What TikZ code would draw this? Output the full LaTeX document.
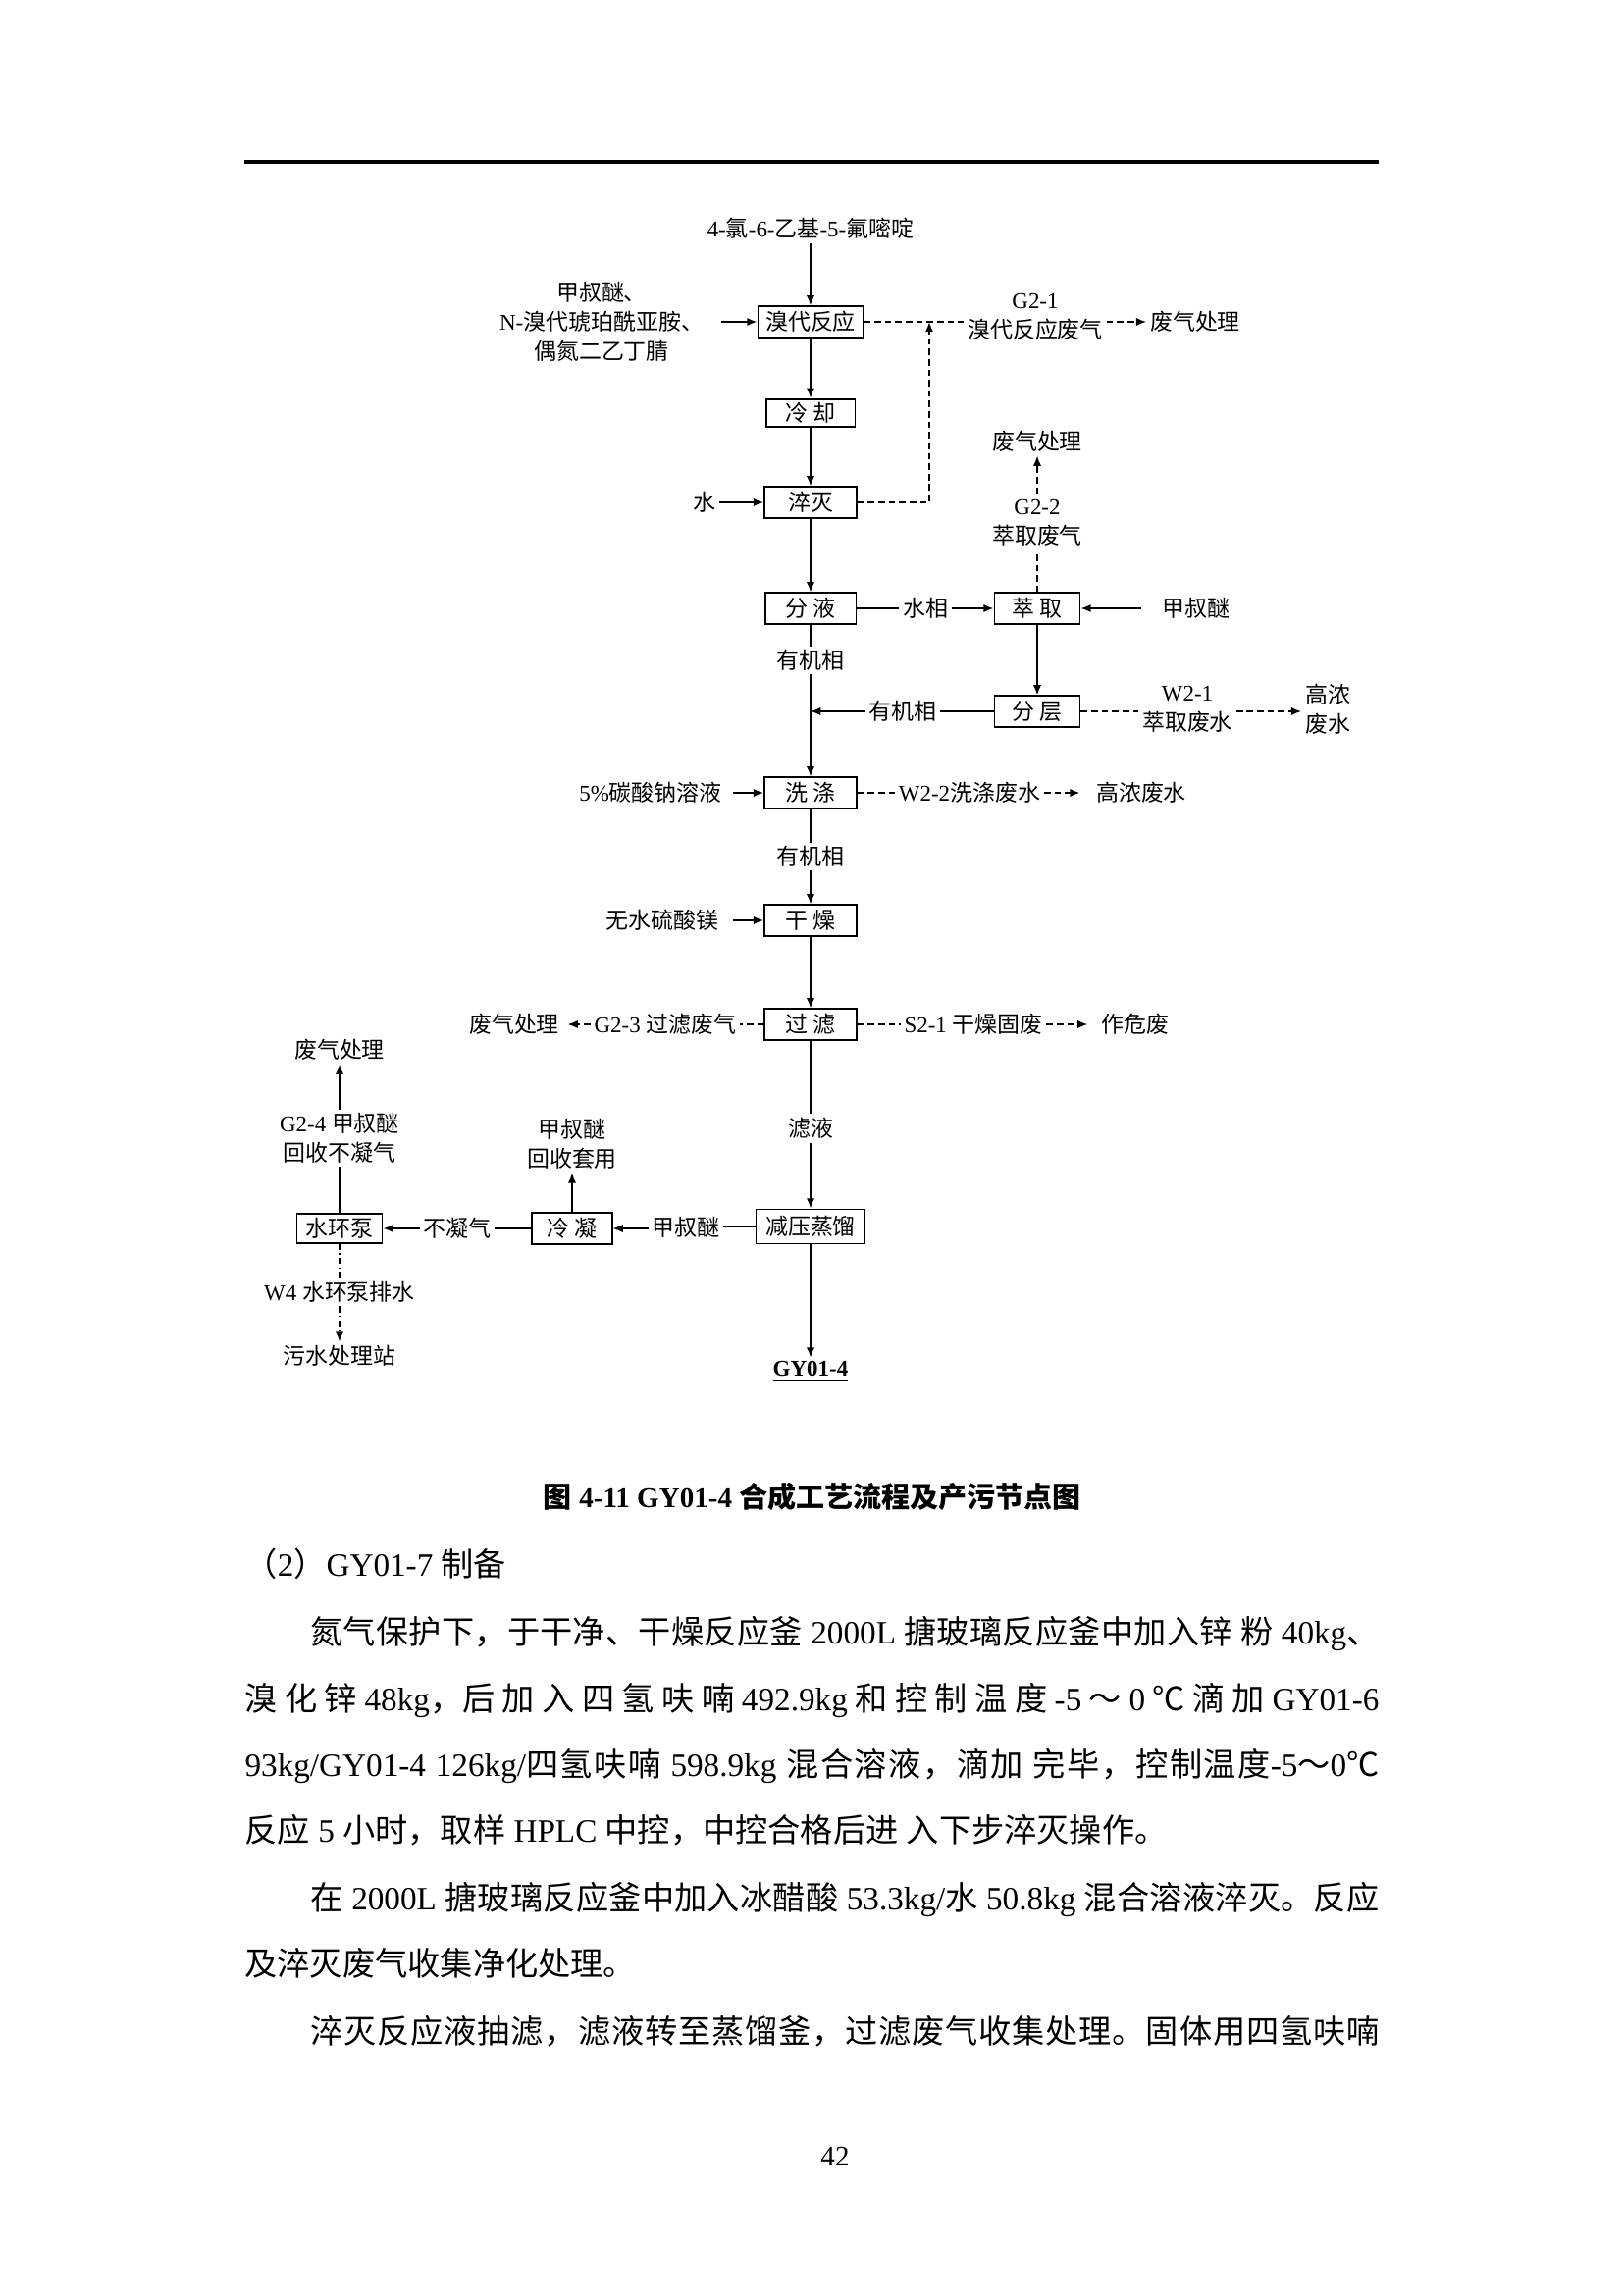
\documentclass[tikz,border=0pt]{standalone}
\usepackage{fontspec}
\setmainfont{Liberation Serif}
\newfontfamily\cjk{Noto Sans CJK SC}
\usetikzlibrary{arrows.meta,positioning,calc}

% Chinese characters go to the CJK font
\XeTeXinterchartokenstate=1
\newXeTeXintercharclass\CJKcls
\newcount\cjkc
\def\setcjkrange#1#2{\cjkc=#1\relax
  \loop\XeTeXcharclass\cjkc=\CJKcls
  \ifnum\cjkc<#2\advance\cjkc by 1\repeat}
\setcjkrange{"2103}{"2103}
\setcjkrange{"3000}{"303F}
\setcjkrange{"4E00}{"9FFF}
\setcjkrange{"FF00}{"FFEF}
\XeTeXinterchartoks 0 \CJKcls={\begingroup\cjk}
\XeTeXinterchartoks 4095 \CJKcls={\begingroup\cjk}
\XeTeXinterchartoks \CJKcls 0={\endgroup}
\XeTeXinterchartoks \CJKcls 4095={\endgroup}
\XeTeXinterchartoks \CJKcls \CJKcls={\hskip0pt plus 1.5pt\relax}

\newcommand{\dfont}{\fontsize{8.3}{10.8}\selectfont}
\newcommand{\btext}{\fontsize{12}{14}\selectfont}

\begin{document}
\begin{tikzpicture}[
    x=0.127mm, y=-0.127mm,
    box/.style={rectangle, draw, line width=0.7pt, minimum height=3.95mm, inner sep=0pt, font=\dfont},
    lbl/.style={font=\dfont, align=center, inner sep=1.2pt},
    flow/.style={line width=0.6pt, -{Latex[length=1.3mm,width=1.05mm]}},
    link/.style={line width=0.6pt},
    wlink/.style={line width=0.6pt, dash pattern=on 0.85mm off 0.5mm},
    waste/.style={wlink, -{Latex[length=1.3mm,width=1.05mm]}},
    dlink/.style={line width=0.6pt, dash pattern=on 0.8mm off 0.4mm on 0.2mm off 0.4mm},
    drain/.style={dlink, -{Latex[length=1.3mm,width=1.05mm]}},
    body/.style={font=\btext, anchor=base west, inner sep=0pt}
]
\useasboundingbox (0,0) rectangle (1654,2339);
\fill[white] (0,0) rectangle (1654,2339);

% ============ page head ============
\draw[line width=0.4mm] (249,165) -- (1405,165);

% ============ main line ============
\node[lbl] (pyr) at (826,233) {4-氯-6-乙基-5-氟嘧啶};
\node[box, minimum width=13.6mm] (brom) at (826,328) {溴代反应};
\node[box, minimum width=11.55mm, minimum height=3.6mm] (cool) at (826,421) {冷 却};
\node[box, minimum width=11.9mm] (quench) at (826,512) {淬灭};
\node[box, minimum width=11.8mm] (sep) at (826,620) {分 液};
\node[lbl] (org1) at (826,673) {有机相};
\node[box, minimum width=11.9mm] (wash) at (826,808) {洗 涤};
\node[lbl] (org2) at (826,873) {有机相};
\node[box, minimum width=11.9mm] (dry) at (826,938) {干 燥};
\node[box, minimum width=11.9mm] (filt) at (826,1044) {过 滤};
\node[lbl] (filtr) at (826,1150) {滤液};
\node[box, minimum width=14.1mm, minimum height=4.45mm] (dist) at (826,1250) {减压蒸馏};
\node[lbl, font=\dfont\bfseries] (prod) at (826,1398) {\underline{GY01-4}};

\draw[flow] (pyr) -- (brom);
\draw[flow] (brom) -- (cool);
\draw[flow] (cool) -- (quench);
\draw[flow] (quench) -- (sep);
\draw[link] (sep) -- (org1);
\draw[flow] (org1) -- (wash);
\draw[link] (wash) -- (org2);
\draw[flow] (org2) -- (dry);
\draw[flow] (dry) -- (filt);
\draw[link] (filt) -- (filtr);
\draw[flow] (filtr) -- (dist);
\draw[flow] (dist) -- (prod);

% ============ bromination and quench ============
\node[lbl] (reag) at (613,328) {甲叔醚、\\N-溴代琥珀酰亚胺、\\偶氮二乙丁腈};
\node[lbl] (g21) at (1055,323) {G2-1\\溴代反应废气};
\node[lbl] (gas1) at (1218,328) {废气处理};
\node[lbl] (water) at (718,512) {水};
\coordinate (ret) at (947,328);

\draw[flow, shorten <=1.8mm] (reag.east |- brom) -- (brom.west);
\draw[wlink] (brom.east) -- (brom.east -| g21.west);
\draw[waste] (g21.east |- brom) -- (gas1.west);
\draw[waste] (quench.east) -| (ret);
\draw[flow] (water.east |- quench) -- (quench.west);

% ============ extraction ============
\node[lbl] (aq) at (943,620) {水相};
\node[box, minimum width=11.05mm] (extr) at (1057,620) {萃 取};
\node[lbl] (mtbe1) at (1219,620) {甲叔醚};
\node[lbl, inner sep=2pt] (g22) at (1057,533) {G2-2\\萃取废气};
\node[lbl] (gas2) at (1057,450) {废气处理};
\node[box, minimum width=11.05mm] (layer) at (1057,725) {分 层};
\node[lbl] (org3) at (920,725) {有机相};
\coordinate (join) at (826,725);
\node[lbl] (w21) at (1210,723) {W2-1\\萃取废水};
\node[lbl] (hc1) at (1353,723) {高浓\\废水};

\draw[link] (sep) -- (aq);
\draw[flow] (aq) -- (extr);
\draw[flow, shorten <=2.3mm] (mtbe1) -- (extr);
\draw[wlink] (extr) -- (g22);
\draw[waste] (g22) -- (gas2);
\draw[flow] (extr) -- (layer);
\draw[link] (layer) -- (org3);
\draw[flow] (org3) -- (join);
\draw[wlink] (layer.east) -- (layer.east -| w21.west);
\draw[waste] (w21.east |- layer) -- (layer -| hc1.west);

% ============ washing and drying ============
\node[lbl] (soda) at (663,808) {5\%碳酸钠溶液};
\node[lbl] (w22) at (988,808) {W2-2洗涤废水};
\node[lbl] (hc2) at (1163,808) {高浓废水};
\node[lbl] (mgso4) at (675,938) {无水硫酸镁};

\draw[flow, shorten <=0.9mm] (soda.east |- wash) -- (wash.west);
\draw[wlink] (wash) -- (w22);
\draw[waste, shorten >=1.6mm] (w22) -- (hc2);
\draw[flow, shorten <=1.4mm] (mgso4.east |- dry) -- (dry.west);

% ============ filtration ============
\node[lbl] (g23) at (678,1044) {G2-3 过滤废气};
\node[lbl] (gas3) at (524,1044) {废气处理};
\node[lbl] (s21) at (992,1044) {S2-1 干燥固废};
\node[lbl] (haz) at (1157,1044) {作危废};

\draw[wlink] (filt) -- (g23);
\draw[waste, shorten >=0.6mm] (g23) -- (gas3);
\draw[wlink] (filt) -- (s21);
\draw[waste, shorten >=1.3mm] (s21) -- (haz);

% ============ solvent recovery ============
\node[lbl] (mtbe2) at (699,1251) {甲叔醚};
\node[box, minimum width=10.3mm] (cond) at (583,1252) {冷 凝};
\node[lbl] (recyc) at (583,1166) {甲叔醚\\回收套用};
\node[lbl] (noncond) at (466,1252) {不凝气};
\node[box, minimum width=11.05mm, minimum height=3.8mm] (pump) at (346,1252) {水环泵};
\node[lbl] (g24) at (346,1160) {G2-4 甲叔醚\\回收不凝气};
\node[lbl] (gas4) at (346,1070) {废气处理};
\node[lbl] (w4) at (346,1317) {W4 水环泵排水};
\node[lbl] (sew) at (346,1382) {污水处理站};

\draw[link] (dist.west) -- (dist.west -| mtbe2.east);
\draw[flow] (mtbe2.west |- cond) -- (cond.east);
\draw[flow] (cond) -- (recyc);
\draw[link] (cond.west) -- (cond.west -| noncond.east);
\draw[flow] (noncond.west |- pump) -- (pump.east);
\draw[link] (pump) -- (g24);
\draw[flow] (g24) -- (gas4);
\draw[dlink] (pump) -- (w4);
\draw[drain] (w4) -- (sew);

% ============ caption and text ============
\node[font=\fontsize{10.5}{12}\selectfont\bfseries] (cap) at (828,1525) {图 4-11 GY01-4 合成工艺流程及产污节点图};

\node[body] (h2) at (249,1606) {（2）GY01-7 制备};
\node[body] (p1) at (316,1675) {\makebox[138.3mm][s]{氮气保护下，于干净、干燥反应釜 2000L 搪玻璃反应釜中加入锌 粉 40kg、}};
\node[body] (p2) at (249,1743) {\makebox[146.8mm][s]{溴 化 锌 48kg，后 加 入 四 氢 呋 喃 492.9kg 和 控 制 温 度 -5 ～ 0 ℃ 滴 加 GY01-6}};
\node[body] (p3) at (249,1810) {\makebox[146.8mm][s]{93kg/GY01-4 126kg/四氢呋喃 598.9kg 混合溶液，滴加 完毕，控制温度-5～0℃}};
\node[body] (p4) at (249,1877) {反应 5 小时，取样 HPLC 中控，中控合格后进 入下步淬灭操作。};
\node[body] (p5) at (316,1946) {\makebox[138.3mm][s]{在 2000L 搪玻璃反应釜中加入冰醋酸 53.3kg/水 50.8kg 混合溶液淬灭。反应}};
\node[body] (p6) at (249,2013) {及淬灭废气收集净化处理。};
\node[body] (p7) at (316,2082) {\makebox[138.3mm][s]{淬灭反应液抽滤，滤液转至蒸馏釜，过滤废气收集处理。固体用四氢呋喃}};

\node[font=\fontsize{10.5}{12}\selectfont] (pageno) at (851,2198) {42};

\end{tikzpicture}
\end{document}
